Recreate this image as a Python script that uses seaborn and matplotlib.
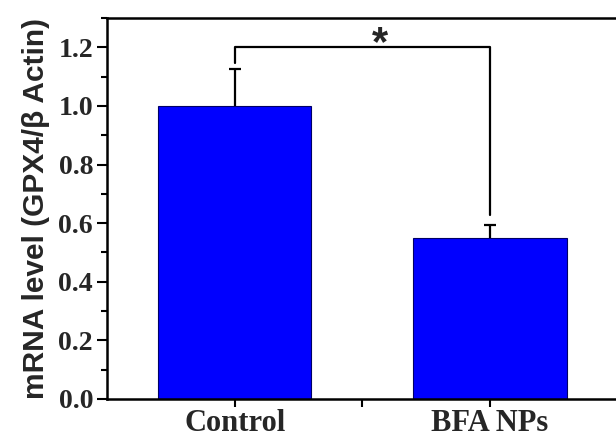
import matplotlib
matplotlib.use("Agg")
import matplotlib.pyplot as plt
from matplotlib.ticker import MultipleLocator, FixedLocator
import seaborn as sns
import pandas as pd

groups = ["Control", "BFA NPs"]
expression = [1.0, 0.55]
sd_upper = [0.125, 0.043]
bracket_y = 1.2
bracket_feet = [1.146, 0.627]
y_ticks = [0.0, 0.2, 0.4, 0.6, 0.8, 1.0, 1.2]

sns.set_style("ticks")
plt.rcParams["font.family"] = ["Liberation Serif", "DejaVu Serif"]

df = pd.DataFrame({"group": groups, "level": expression})

fig = plt.figure(figsize=(6.16, 4.37), dpi=100)
ax = fig.add_axes([0.1737, 0.087, 0.829, 0.8718])

sns.barplot(data=df, x="group", y="level", color="#0000FF", saturation=1,
            width=0.6, edgecolor="#000066", linewidth=0.8, ax=ax, errorbar=None)

# upper-only standard deviation bars (lower caps hidden)
eb = ax.errorbar([0, 1], expression, yerr=[[0, 0], sd_upper], fmt="none",
                 ecolor="black", elinewidth=1.6, capsize=4.5, capthick=1.6, zorder=3)
eb[1][0].set_visible(False)

# significance bracket
ax.plot([0, 0, 1, 1], [bracket_feet[0], bracket_y, bracket_y, bracket_feet[1]],
        color="black", lw=1.6, solid_joinstyle="round", clip_on=False)
ax.text(0.57, bracket_y - 0.028, "*", ha="center", va="baseline",
        fontsize=30, fontweight="bold", family=["Liberation Sans"])

ax.set_xlim(-0.5, 1.5)
ax.set_ylim(0, 1.3)
ax.set_yticks(y_ticks)
ax.set_yticklabels([f"{v:.1f}" for v in y_ticks])
ax.yaxis.set_minor_locator(MultipleLocator(0.1))
ax.xaxis.set_minor_locator(FixedLocator([0.5]))

ax.set_xlabel("")
ax.set_ylabel("mRNA level (GPX4/\u03b2 Actin)", fontsize=21.5, fontweight="bold",
              family=["Liberation Sans", "DejaVu Sans"], labelpad=6)

for lbl in ax.get_yticklabels():
    lbl.set_fontsize(20)
    lbl.set_fontweight("bold")
for lbl in ax.get_xticklabels():
    lbl.set_fontsize(22)
    lbl.set_fontweight("bold")

ax.tick_params(axis="both", which="major", direction="out", length=7,
               width=1.5, color="black", pad=3)
ax.tick_params(axis="both", which="minor", direction="out", length=4.5,
               width=1.5, color="black")
ax.tick_params(axis="x", which="major", length=6, pad=1.5)
ax.tick_params(axis="x", which="minor", length=6)

for side in ["left", "bottom", "top", "right"]:
    ax.spines[side].set_visible(True)
    ax.spines[side].set_linewidth(1.8)
    ax.spines[side].set_color("black")

fig.savefig("out.png", dpi=100)
